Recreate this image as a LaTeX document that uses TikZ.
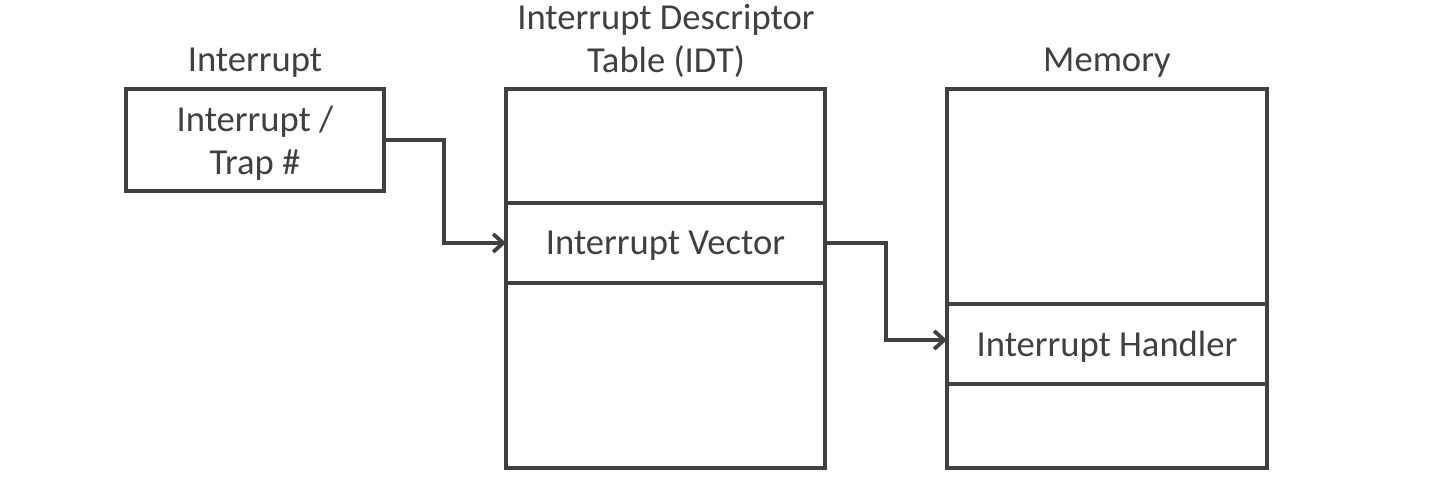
\documentclass[tikz,border=0pt]{standalone}
\usepackage{fontspec}
\setmainfont{Carlito}
\usetikzlibrary{arrows.meta}
\definecolor{ink}{HTML}{404040}
\begin{document}
\begin{tikzpicture}[x=0.5pt,y=-0.5pt,
  box/.style={draw=ink,line width=1.9pt,fill=white},
  lbl/.style={text=ink,font=\fontsize{18.3}{21.5}\selectfont,align=center,inner sep=0pt},
  conn/.style={draw=ink,line width=1.9pt,-{Straight Barb[length=5pt,width=9pt,line width=1.9pt]}}]
\useasboundingbox (0,0) rectangle (1448,480);
% Interrupt box
\draw[box] (126,89) rectangle (384,191);
\node[lbl] (trap) at (255,143) {Interrupt /\\Trap \#};
\coordinate (trapE) at (384,140);
\node[lbl] (tInt) at (255,63) {Interrupt};
% IDT
\draw[box] (506,89) rectangle (825,468);
\draw[box] (506,203) rectangle (825,283);
\node[lbl] (vec) at (665.5,246) {Interrupt Vector};
\coordinate (vecW) at (506,243);
\coordinate (vecE) at (825,243);
\node[lbl] (tIDT) at (666,41) {Interrupt Descriptor\\Table (IDT)};
% Memory
\draw[box] (947,89) rectangle (1267,468);
\draw[box] (947,304) rectangle (1267,384);
\node[lbl] (hdl) at (1107,347) {Interrupt Handler};
\coordinate (hdlW) at (947,340);
\node[lbl] (tMem) at (1107,63) {Memory};
% connectors
\draw[conn] (trapE) -| (444,243) -- (vecW);
\draw[conn] (vecE) -| (886,340) -- (hdlW);
\end{tikzpicture}
\end{document}
